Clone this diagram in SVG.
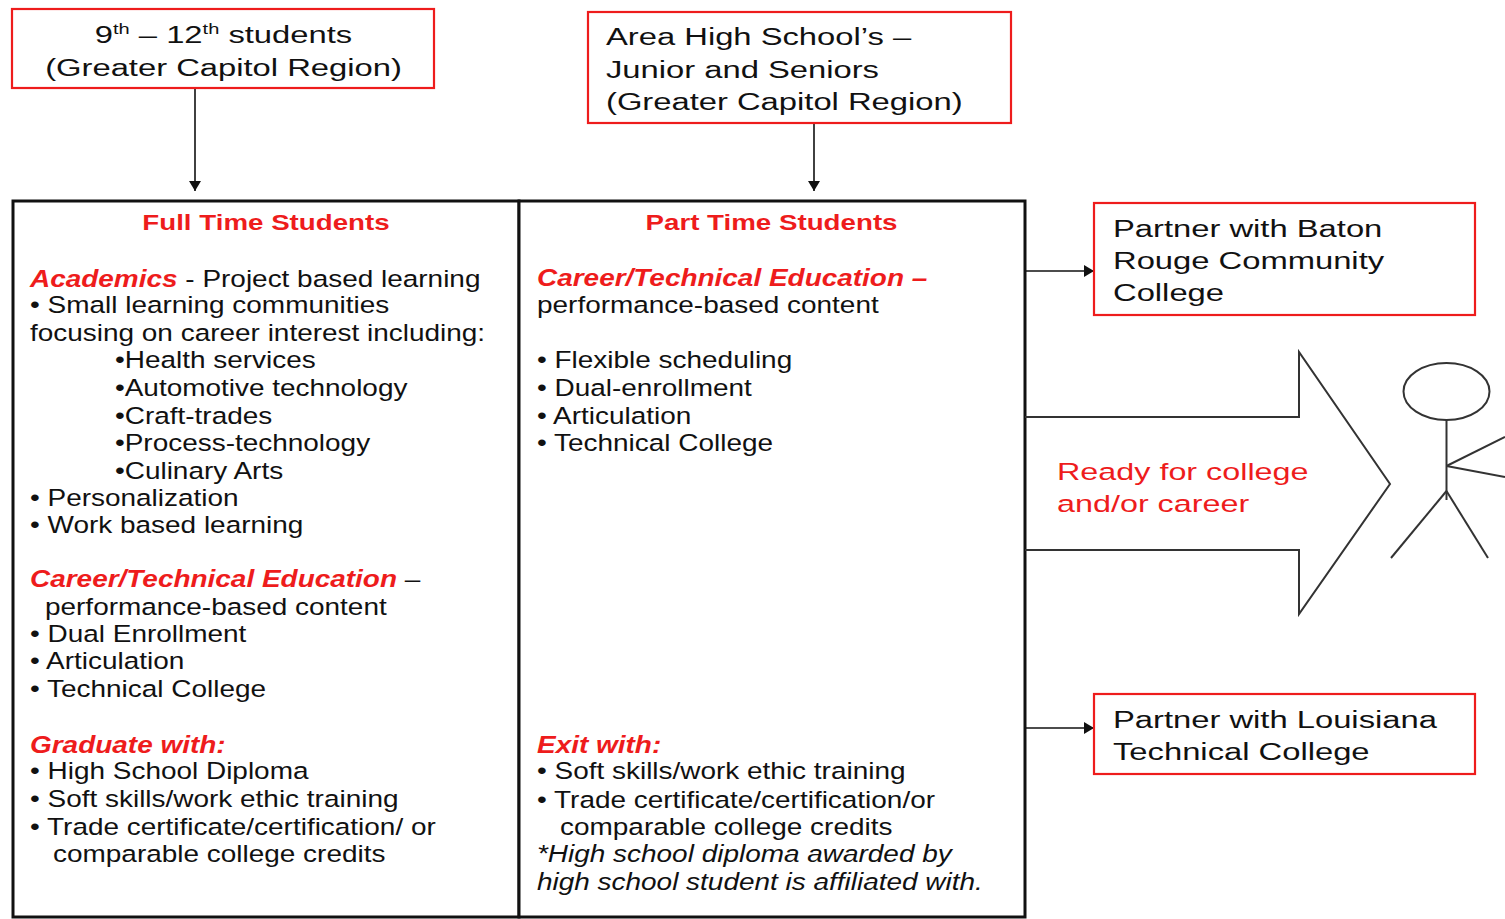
<svg xmlns="http://www.w3.org/2000/svg" width="1505" height="919" viewBox="0 0 1505 919">
<style>
.t { font-family: "Liberation Sans", Arial, sans-serif; fill: #111; }
.col { font-size: 23.3px; }
.box { font-size: 24.5px; }
.hdr { font-size: 22px; font-weight: bold; fill: #ee1c1c; }
.r { fill: #ee1c1c; }
.bi { font-weight: bold; font-style: italic; }
.it { font-style: italic; }
.redbox { fill: #fff; stroke: #ee1c1c; stroke-width: 2.2; }
.colbox { fill: #fff; stroke: #111; stroke-width: 3; }
.conn { stroke: #111; stroke-width: 1.6; fill: none; }
.shape { stroke: #333; stroke-width: 2; fill: none; }
</style>
<defs>
<marker id="ah" viewBox="0 0 10 12" refX="10" refY="6" markerWidth="10" markerHeight="12" markerUnits="userSpaceOnUse" orient="auto">
<path d="M0,0 L10,6 L0,12 Z" fill="#111"/>
</marker>
</defs>
<rect width="1505" height="919" fill="#fff"/>

<g id="connectors">
<line class="conn" x1="195" y1="89" x2="195" y2="191" marker-end="url(#ah)"/>
<line class="conn" x1="814" y1="124" x2="814" y2="191" marker-end="url(#ah)"/>
<line class="conn" x1="1025" y1="271" x2="1094" y2="271" marker-end="url(#ah)"/>
<line class="conn" x1="1025" y1="728" x2="1094" y2="728" marker-end="url(#ah)"/>
</g>

<g id="node-students">
<rect class="redbox" x="12" y="9" width="422" height="79"/>
<g transform="translate(223.5,0) scale(1.337,1)">
<text class="t box" text-anchor="middle"><tspan x="0" y="43">9<tspan font-size="15" dy="-9">th</tspan><tspan dy="9"> – 12</tspan><tspan font-size="15" dy="-9">th</tspan><tspan dy="9"> students</tspan></tspan><tspan x="0" y="76">(Greater Capitol Region)</tspan></text>
</g>
</g>

<g id="node-area">
<rect class="redbox" x="588" y="12" width="423" height="111"/>
<g transform="translate(606,0) scale(1.337,1)">
<text class="t box"><tspan x="0" y="45">Area High School’s –</tspan><tspan x="0" y="78">Junior and Seniors</tspan><tspan x="0" y="110">(Greater Capitol Region)</tspan></text>
</g>
</g>

<g id="node-fulltime">
<rect class="colbox" x="13" y="201" width="506" height="716"/>
<g transform="translate(266,0) scale(1.26,1)">
<text class="t hdr" x="0" y="230" text-anchor="middle">Full Time Students</text>
</g>
<g transform="translate(30,0) scale(1.2,1)">
<text class="t col">
<tspan x="0" y="287"><tspan class="r bi">Academics</tspan> - Project based learning</tspan>
<tspan x="0" y="313">• Small learning communities</tspan>
<tspan x="0" y="341.5">focusing on career interest including:</tspan>
<tspan x="70.8" y="368">•Health services</tspan>
<tspan x="70.8" y="396">•Automotive technology</tspan>
<tspan x="70.8" y="424">•Craft-trades</tspan>
<tspan x="70.8" y="451">•Process-technology</tspan>
<tspan x="70.8" y="479">•Culinary Arts</tspan>
<tspan x="0" y="506">• Personalization</tspan>
<tspan x="0" y="533">• Work based learning</tspan>
<tspan x="0" y="587"><tspan class="r bi">Career/Technical Education</tspan> –</tspan>
<tspan x="12.5" y="615">performance-based content</tspan>
<tspan x="0" y="642">• Dual Enrollment</tspan>
<tspan x="0" y="669">• Articulation</tspan>
<tspan x="0" y="697">• Technical College</tspan>
<tspan x="0" y="753" class="r bi">Graduate with:</tspan>
<tspan x="0" y="779">• High School Diploma</tspan>
<tspan x="0" y="807">• Soft skills/work ethic training</tspan>
<tspan x="0" y="835">• Trade certificate/certification/ or</tspan>
<tspan x="19.2" y="862">comparable college credits</tspan>
</text>
</g>
</g>

<g id="node-parttime">
<rect class="colbox" x="519" y="201" width="506" height="716"/>
<g transform="translate(771.5,0) scale(1.26,1)">
<text class="t hdr" x="0" y="230" text-anchor="middle">Part Time Students</text>
</g>
<g transform="translate(537,0) scale(1.2,1)">
<text class="t col">
<tspan x="0" y="286" class="r bi">Career/Technical Education –</tspan>
<tspan x="0" y="313">performance-based content</tspan>
<tspan x="0" y="368">• Flexible scheduling</tspan>
<tspan x="0" y="396">• Dual-enrollment</tspan>
<tspan x="0" y="424">• Articulation</tspan>
<tspan x="0" y="451">• Technical College</tspan>
<tspan x="0" y="753" class="r bi">Exit with:</tspan>
<tspan x="0" y="779">• Soft skills/work ethic training</tspan>
<tspan x="0" y="808">• Trade certificate/certification/or</tspan>
<tspan x="19.2" y="835">comparable college credits</tspan>
<tspan x="0" y="862" class="it">*High school diploma awarded by</tspan>
<tspan x="0" y="890" class="it">high school student is affiliated with.</tspan>
</text>
</g>
</g>

<g id="node-brcc">
<rect class="redbox" x="1094" y="203" width="381" height="112"/>
<g transform="translate(1113,0) scale(1.337,1)">
<text class="t box"><tspan x="0" y="237">Partner with Baton</tspan><tspan x="0" y="269">Rouge Community</tspan><tspan x="0" y="301">College</tspan></text>
</g>
</g>

<g id="node-ready">
<polyline class="shape" points="1025,417 1299,417 1299,352 1390,484 1299,614 1299,550 1025,550"/>
<g transform="translate(1057,0) scale(1.32,1)">
<text class="t box r"><tspan x="0" y="480">Ready for college</tspan><tspan x="0" y="512">and/or career</tspan></text>
</g>
</g>

<g id="node-person">
<ellipse class="shape" cx="1446.5" cy="391.5" rx="43" ry="28.5"/>
<line class="shape" x1="1446.5" y1="420" x2="1446.5" y2="500"/>
<line class="shape" x1="1446.5" y1="466" x2="1505" y2="437"/>
<line class="shape" x1="1446.5" y1="466" x2="1505" y2="477"/>
<line class="shape" x1="1446.5" y1="491" x2="1391" y2="558"/>
<line class="shape" x1="1446.5" y1="491" x2="1488" y2="558"/>
</g>

<g id="node-ltc">
<rect class="redbox" x="1094" y="694" width="381" height="80"/>
<g transform="translate(1113,0) scale(1.337,1)">
<text class="t box"><tspan x="0" y="728">Partner with Louisiana</tspan><tspan x="0" y="760">Technical College</tspan></text>
</g>
</g>
</svg>
